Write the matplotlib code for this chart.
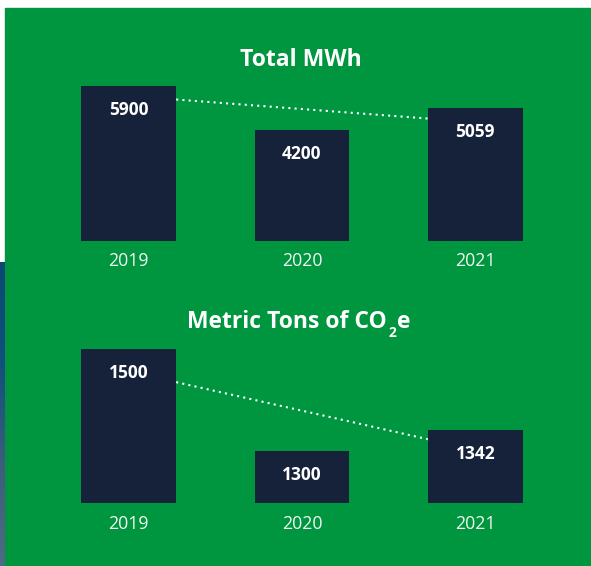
import numpy as np
import matplotlib
matplotlib.use('Agg')
import matplotlib.pyplot as plt
from matplotlib.patches import Rectangle
from matplotlib.colors import LinearSegmentedColormap

# data
years = ['2019', '2020', '2021']
mwh = [5900, 4200, 5059]
co2 = [1500, 1300, 1342]
# dotted trend line ends (2019 -> 2021), in data units
mwh_trend = [5370, 4650]
co2_trend = [1436, 1324]

green = '#00963f'
navy = '#152239'
W, H = 591, 566

plt.rcParams['font.family'] = ['Open Sans', 'DejaVu Sans']

fig = plt.figure(figsize=(W / 100, H / 100), dpi=100)
fig.patch.set_facecolor('white')

# green card
fig.patches.append(Rectangle((5 / W, 0), 1 - 5 / W, 1 - 8 / H,
                             transform=fig.transFigure, color=green, zorder=-5))
# blue strip on the left edge
strip = fig.add_axes([0, 0, 5 / W, (H - 262) / H])
cmap = LinearSegmentedColormap.from_list('s', ['#0b4874', '#11507c', '#3d5d7c', '#4f6a86'])
strip.imshow(np.linspace(0, 1, 100).reshape(-1, 1), aspect='auto', cmap=cmap)
strip.axis('off')


def px_axes(left, bottom, width, height):
    return fig.add_axes([left / W, 1 - bottom / H, width / W, height / H])


def panel(ax, vals, trend, ymin, scale, year_off):
    x = np.arange(len(vals))
    bw = 0.548
    ax.bar(x, np.array(vals) - ymin, bottom=ymin, width=bw, color=navy, zorder=2)
    ax.set_xlim(-0.5, 2.5)
    hpx = ax.get_position().height * H
    ax.set_ylim(ymin, ymin + hpx / scale)
    ax.axis('off')
    for xi, v in zip(x, vals):
        ax.annotate(str(v), (xi, v), xytext=(0, -24), textcoords='offset pixels',
                    ha='center', va='center', color='white', fontsize=12.5,
                    fontweight='bold', zorder=3)
        ax.annotate(years[xi], (xi, ymin), xytext=(0, -year_off), textcoords='offset pixels',
                    ha='center', va='center', color='#f2f7f2', fontsize=12.8,
                    annotation_clip=False)
    ax.plot([x[0] + bw / 2, x[2] - bw / 2], trend, color='white', lw=1.5,
            linestyle=(0, (1, 2)), dash_capstyle='butt', zorder=3)


ax1 = px_axes(42, 241.5, 520, 201.5)
panel(ax1, mwh, mwh_trend, 0, 0.02644, 20)

ax2 = px_axes(42, 503, 520, 203)
panel(ax2, co2, co2_trend, 1199, 0.51, 21)

# overlay for the titles
top = fig.add_axes([0, 0, 1, 1])
top.axis('off')
top.set_xlim(0, W)
top.set_ylim(H, 0)

top.text(301, 60, 'Total MWh', ha='center', va='center',
         color='white', fontsize=16.6, fontweight='bold')

# second title with a small, low subscript 2
t1 = top.text(0, 328, 'Metric Tons of CO', ha='left', va='baseline',
              color='white', fontsize=16.5, fontweight='bold')
t2 = top.annotate('2', (1, 0), xycoords=t1, xytext=(1, -6), textcoords='offset pixels',
                  ha='left', va='bottom', color='white', fontsize=10, fontweight='bold')
t3 = top.annotate('e', (1, 0), xycoords=(t2, t1), xytext=(1, 0), textcoords='offset pixels',
                  ha='left', va='bottom', color='white', fontsize=16.5, fontweight='bold')
fig.canvas.draw()
r = fig.canvas.get_renderer()
x0 = t1.get_window_extent(r).x0
x1 = t3.get_window_extent(r).x1
t1.set_x(299 - (x1 - x0) / 2)

fig.savefig('out.png', dpi=100, facecolor=fig.get_facecolor())
